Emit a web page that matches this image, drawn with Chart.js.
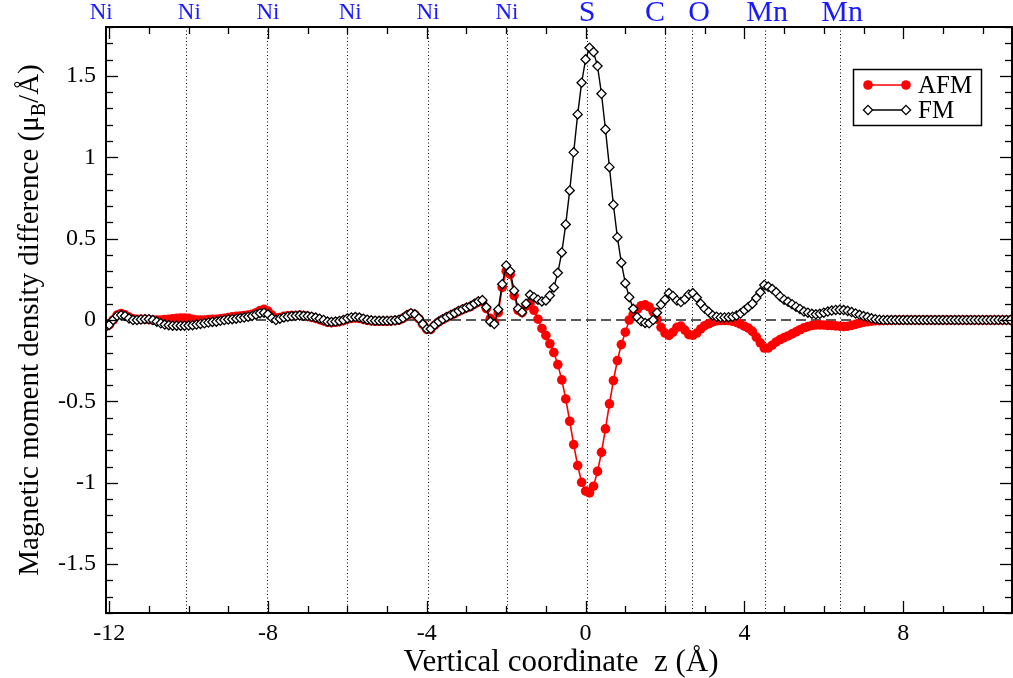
<!DOCTYPE html>
<html>
<head>
<meta charset="utf-8">
<script src="https://cdn.jsdelivr.net/npm/chart.js@4.4.1/dist/chart.umd.min.js"></script>
<style>
html,body{margin:0;padding:0;background:#fff;}
#wrap{width:1013px;height:678px;}
</style>
</head>
<body>
<div id="wrap"><canvas id="c" width="1013" height="678"></canvas></div>
<script>
// ---- data (z in Å, values in μB/Å) ----
const zValues = [-12.1,
 -12.0,-11.9,-11.8,-11.7,-11.6,-11.5,-11.4,-11.3,-11.2,-11.1,
 -11.0,-10.9,-10.8,-10.7,-10.6,-10.5,-10.4,-10.3,-10.2,-10.1,
 -10.0,-9.9,-9.8,-9.7,-9.6,-9.5,-9.4,-9.3,-9.2,-9.1,
 -9.0,-8.9,-8.8,-8.7,-8.6,-8.5,-8.4,-8.3,-8.2,-8.1,
 -8.0,-7.9,-7.8,-7.7,-7.6,-7.5,-7.4,-7.3,-7.2,-7.1,
 -7.0,-6.9,-6.8,-6.7,-6.6,-6.5,-6.4,-6.3,-6.2,-6.1,
 -6.0,-5.9,-5.8,-5.7,-5.6,-5.5,-5.4,-5.3,-5.2,-5.1,
 -5.0,-4.9,-4.8,-4.7,-4.6,-4.5,-4.4,-4.3,-4.2,-4.1,
 -4.0,-3.9,-3.8,-3.7,-3.6,-3.5,-3.4,-3.3,-3.2,-3.1,
 -3.0,-2.9,-2.8,-2.7,-2.6,-2.5,-2.4,-2.3,-2.2,-2.1,
 -2.0,-1.9,-1.8,-1.7,-1.6,-1.5,-1.4,-1.3,-1.2,-1.1,
 -1.0,-0.9,-0.8,-0.7,-0.6,-0.5,-0.4,-0.3,-0.2,-0.1,
 0.0,0.1,0.2,0.3,0.4,0.5,0.6,0.7,0.8,0.9,
 1.0,1.1,1.2,1.3,1.4,1.5,1.6,1.7,1.8,1.9,
 2.0,2.1,2.2,2.3,2.4,2.5,2.6,2.7,2.8,2.9,
 3.0,3.1,3.2,3.3,3.4,3.5,3.6,3.7,3.8,3.9,
 4.0,4.1,4.2,4.3,4.4,4.5,4.6,4.7,4.8,4.9,
 5.0,5.1,5.2,5.3,5.4,5.5,5.6,5.7,5.8,5.9,
 6.0,6.1,6.2,6.3,6.4,6.5,6.6,6.7,6.8,6.9,
 7.0,7.1,7.2,7.3,7.4,7.5,7.6,7.7,7.8,7.9,
 8.0,8.1,8.2,8.3,8.4,8.5,8.6,8.7,8.8,8.9,
 9.0,9.1,9.2,9.3,9.4,9.5,9.6,9.7,9.8,9.9,
 10.0,10.1,10.2,10.3,10.4,10.5,10.6,10.7];

const afmValues = [-0.04,
 -0.03,0.0,0.03,0.04,0.032,0.018,0.008,0.005,0.005,0.005,
 0.003,0.0,0.0,0.0,0.003,0.005,0.008,0.01,0.012,0.012,
 0.01,0.005,0.0,0.0,0.0,0.003,0.005,0.005,0.008,0.01,
 0.015,0.02,0.022,0.025,0.028,0.03,0.035,0.045,0.058,0.065,
 0.055,0.03,0.012,0.015,0.022,0.026,0.028,0.028,0.03,0.028,
 0.022,0.016,0.01,0.002,-0.006,-0.014,-0.016,-0.014,-0.01,-0.004,
 0.005,0.01,0.012,0.01,0.004,-0.002,-0.006,-0.008,-0.008,-0.008,
 -0.008,-0.006,-0.004,0.0,0.01,0.028,0.04,0.033,0.008,-0.027,
 -0.057,-0.057,-0.032,-0.012,0.003,0.016,0.028,0.04,0.053,0.064,
 0.074,0.083,0.097,0.11,0.115,0.07,0.01,-0.012,0.045,0.2,
 0.3,0.28,0.15,0.06,0.045,0.085,0.1,0.06,0.005,-0.052,
 -0.095,-0.146,-0.2,-0.274,-0.368,-0.485,-0.622,-0.765,-0.894,-0.997,
 -1.051,-1.062,-1.021,-0.93,-0.813,-0.669,-0.515,-0.372,-0.249,-0.151,
 -0.075,0.0,0.035,0.065,0.088,0.093,0.08,0.05,0.005,-0.045,
 -0.08,-0.095,-0.075,-0.045,-0.037,-0.062,-0.09,-0.094,-0.08,-0.055,
 -0.035,-0.023,-0.012,-0.005,-0.003,-0.003,-0.003,-0.008,-0.015,-0.025,
 -0.038,-0.05,-0.07,-0.105,-0.14,-0.172,-0.172,-0.155,-0.135,-0.12,
 -0.108,-0.098,-0.085,-0.073,-0.06,-0.048,-0.04,-0.034,-0.031,-0.03,
 -0.031,-0.033,-0.034,-0.036,-0.038,-0.04,-0.038,-0.033,-0.027,-0.02,
 -0.014,-0.01,-0.007,-0.005,-0.004,-0.003,-0.002,-0.002,-0.001,-0.001,
 0,0,0,0,0,0,0,0,0,0,
 0,0,0,0,0,0,0,0,0,0,
 0,0,0,0,0,0,0,0];

const fmValues = [-0.045,
 -0.03,0.0,0.025,0.03,0.025,0.01,0.0,0.0,0.003,0.005,
 0.005,0.0,-0.01,-0.02,-0.028,-0.032,-0.035,-0.035,-0.035,-0.035,
 -0.034,-0.032,-0.028,-0.024,-0.02,-0.016,-0.012,-0.01,-0.005,0.0,
 0.003,0.005,0.008,0.012,0.015,0.02,0.025,0.033,0.042,0.045,
 0.035,0.012,0.0,0.008,0.016,0.02,0.024,0.026,0.028,0.026,
 0.024,0.02,0.015,0.008,0.0,-0.01,-0.012,-0.01,-0.006,0.0,
 0.01,0.016,0.018,0.015,0.008,0.002,-0.002,-0.004,-0.005,-0.005,
 -0.005,-0.004,-0.002,0.002,0.012,0.03,0.042,0.035,0.01,-0.025,
 -0.055,-0.055,-0.03,-0.01,0.005,0.018,0.03,0.042,0.055,0.066,
 0.076,0.085,0.1,0.115,0.122,0.078,-0.01,-0.025,0.065,0.22,
 0.335,0.3,0.18,0.07,0.048,0.1,0.155,0.14,0.125,0.114,
 0.12,0.15,0.2,0.29,0.415,0.587,0.796,1.03,1.263,1.458,
 1.601,1.673,1.646,1.56,1.39,1.171,0.939,0.708,0.509,0.352,
 0.226,0.14,0.069,0.017,-0.008,-0.018,-0.02,0.0,0.045,0.095,
 0.125,0.165,0.148,0.12,0.11,0.128,0.157,0.165,0.138,0.1,
 0.07,0.05,0.028,0.02,0.016,0.016,0.017,0.02,0.027,0.04,
 0.06,0.08,0.1,0.135,0.17,0.215,0.205,0.19,0.17,0.145,
 0.125,0.112,0.097,0.082,0.068,0.052,0.045,0.038,0.035,0.038,
 0.045,0.052,0.058,0.062,0.063,0.061,0.056,0.049,0.04,0.032,
 0.024,0.018,0.01,0.005,0.002,0.0,0.0,0.0,0.0,0.0,
 0,0,0,0,0,0,0,0,0,0,
 0,0,0,0,0,0,0,0,0,0,
 0,0,0,0,0,0,0,0];

const seriesNames = ['AFM', 'FM'];
const xTickValues = [-12, -8, -4, 0, 4, 8];
const yTickValues = [-1.5, -1, -0.5, 0, 0.5, 1, 1.5];
const atomNames = ['Ni','Ni','Ni','Ni','Ni','Ni','S','C','O','Mn','Mn'];
const atomLabelZ = [-12.2, -9.98, -8.0, -5.93, -3.97, -1.98, 0.04, 1.75, 2.86, 4.57, 6.46];
const atomLineZ = [-10.06, -8.02, -6.0, -3.97, -1.98, 0.04, 2.0, 2.68, 4.52, 6.41];
const xTitle = 'Vertical coordinate  z (\u00C5)';
const yTitleParts = ['Magnetic moment density difference (\u03BC', 'B', '/\u00C5)'];

const SERIF = "'Liberation Serif', 'Times New Roman', serif";
const X_MIN = -12.08, X_MAX = 10.74, Y_MIN = -1.8, Y_MAX = 1.8;

const afmPts = zValues.map((z, i) => ({x: z, y: afmValues[i]}));
const fmPts = zValues.map((z, i) => ({x: z, y: fmValues[i]}));

const decor = {
  id: 'decor',
  beforeDatasetsDraw(chart) {
    const {ctx, chartArea: a, scales: {x, y}} = chart;
    ctx.save();
    ctx.beginPath(); ctx.rect(a.left, a.top, a.right - a.left, a.bottom - a.top); ctx.clip();
    // dotted atom lines
    ctx.strokeStyle = '#000'; ctx.lineWidth = 1; ctx.setLineDash([1, 2.5]);
    atomLineZ.forEach(v => {
      const px = Math.round(x.getPixelForValue(v)) + 0.5;
      ctx.beginPath(); ctx.moveTo(px, a.top); ctx.lineTo(px, a.bottom); ctx.stroke();
    });
    // dashed zero line
    ctx.setLineDash([10, 5]); ctx.lineWidth = 1.5; ctx.strokeStyle = '#222';
    const py = y.getPixelForValue(0);
    ctx.beginPath(); ctx.moveTo(a.left, py); ctx.lineTo(a.right, py); ctx.stroke();
    ctx.restore();
  },
  afterDraw(chart) {
    const {ctx, chartArea: a, scales: {x, y}} = chart;
    ctx.save();
    ctx.setLineDash([]);
    ctx.strokeStyle = '#000';
    // inward ticks on all four sides
    ctx.lineWidth = 1.3;
    const tick = (px, len, side) => {
      ctx.beginPath();
      if (side === 'b') { ctx.moveTo(px, a.bottom); ctx.lineTo(px, a.bottom - len); }
      if (side === 't') { ctx.moveTo(px, a.top); ctx.lineTo(px, a.top + len); }
      if (side === 'l') { ctx.moveTo(a.left, px); ctx.lineTo(a.left + len, px); }
      if (side === 'r') { ctx.moveTo(a.right, px); ctx.lineTo(a.right - len, px); }
      ctx.stroke();
    };
    for (let k = -12; k <= 10; k++) {
      const major = xTickValues.includes(k);
      const px = Math.round(x.getPixelForValue(k)) + 0.5;
      tick(px, major ? 12 : 7, 'b'); tick(px, major ? 12 : 7, 't');
    }
    for (let k = -18; k <= 18; k++) {
      const v = k / 10;
      const major = (k % 5 === 0);
      const py = Math.round(y.getPixelForValue(v)) + 0.5;
      tick(py, major ? 12 : 7, 'l'); tick(py, major ? 12 : 7, 'r');
    }
    // frame
    ctx.lineWidth = 2;
    ctx.strokeRect(a.left, a.top, a.right - a.left, a.bottom - a.top);

    // atom labels along top
    ctx.fillStyle = '#1a1aff';
    ctx.textAlign = 'center'; ctx.textBaseline = 'alphabetic';
    atomNames.forEach((n, i) => {
      ctx.font = (n === 'Ni' ? '23px ' : '30px ') + SERIF;
      ctx.fillText(n, x.getPixelForValue(atomLabelZ[i]), n === 'Ni' ? 19 : 21);
    });

    // legend
    const ds = chart.data.datasets;
    ctx.lineWidth = 1.5;
    ctx.strokeStyle = '#000';
    ctx.strokeRect(853.5, 69.5, 128, 56);
    const rows = [85, 110];
    seriesNames.forEach((name, i) => {
      const d = ds.find(e => e.label === name);
      const yy = rows[i];
      ctx.strokeStyle = d.borderColor; ctx.lineWidth = d.borderWidth;
      ctx.beginPath(); ctx.moveTo(868, yy); ctx.lineTo(906, yy); ctx.stroke();
      [868, 906].forEach(px => {
        ctx.beginPath();
        if (d.pointStyle === 'circle') {
          ctx.arc(px, yy, d.pointRadius, 0, Math.PI * 2);
          ctx.fillStyle = d.pointBackgroundColor; ctx.fill();
        } else {
          const r = d.pointRadius;
          ctx.moveTo(px, yy - r); ctx.lineTo(px + r, yy); ctx.lineTo(px, yy + r); ctx.lineTo(px - r, yy); ctx.closePath();
          ctx.fillStyle = d.pointBackgroundColor; ctx.fill();
          ctx.strokeStyle = d.pointBorderColor; ctx.lineWidth = d.pointBorderWidth; ctx.stroke();
        }
      });
      ctx.fillStyle = '#000'; ctx.font = '25px ' + SERIF;
      ctx.textAlign = 'left'; ctx.textBaseline = 'middle';
      ctx.fillText(d.label, 918, yy + 1);
    });

    // x title
    ctx.fillStyle = '#000'; ctx.font = '31px ' + SERIF;
    ctx.textAlign = 'center'; ctx.textBaseline = 'alphabetic';
    ctx.fillText(xTitle, 561, 671);

    // y title (rotated, with subscript)
    ctx.save();
    ctx.translate(38, 320);
    ctx.rotate(-Math.PI / 2);
    const fMain = '29px ' + SERIF, fSub = '20px ' + SERIF;
    ctx.font = fMain; const w0 = ctx.measureText(yTitleParts[0]).width;
    ctx.font = fSub; const w1 = ctx.measureText(yTitleParts[1]).width;
    ctx.font = fMain; const w2 = ctx.measureText(yTitleParts[2]).width;
    let sx = -(w0 + w1 + w2) / 2;
    ctx.textAlign = 'left'; ctx.textBaseline = 'alphabetic';
    ctx.font = fMain; ctx.fillText(yTitleParts[0], sx, 0); sx += w0;
    ctx.font = fSub; ctx.fillText(yTitleParts[1], sx, 7); sx += w1;
    ctx.font = fMain; ctx.fillText(yTitleParts[2], sx, 0);
    ctx.restore();

    ctx.restore();
  }
};

new Chart(document.getElementById('c'), {
  type: 'scatter',
  data: {
    datasets: [
      {
        label: seriesNames[1], data: fmPts, showLine: true, order: 0,
        borderColor: '#000', borderWidth: 1.4,
        pointStyle: 'rectRot', pointRadius: 4.6, pointBackgroundColor: '#fff',
        pointBorderColor: '#000', pointBorderWidth: 1.3
      },
      {
        label: seriesNames[0], data: afmPts, showLine: true, order: 1,
        borderColor: '#ff0000', borderWidth: 1.6,
        pointStyle: 'circle', pointRadius: 4.8, pointBackgroundColor: '#ff0000',
        pointBorderColor: '#ff0000', pointBorderWidth: 0
      }
    ]
  },
  options: {
    responsive: false, animation: false, devicePixelRatio: 1,
    layout: {autoPadding: false, padding: {top: 27, right: 1, left: 0, bottom: 0}},
    plugins: {legend: {display: false}, tooltip: {enabled: false}},
    scales: {
      x: {
        type: 'linear', min: X_MIN, max: X_MAX,
        grid: {display: false, drawTicks: false}, border: {display: false},
        afterFit(s) { s.height = 65; },
        afterBuildTicks(s) { s.ticks = xTickValues.map(v => ({value: v})); },
        ticks: {
          autoSkip: false, maxRotation: 0, padding: 6, color: '#000',
          font: {family: SERIF, size: 24},
          callback: v => String(v)
        }
      },
      y: {
        type: 'linear', min: Y_MIN, max: Y_MAX,
        grid: {display: false, drawTicks: false}, border: {display: false},
        afterFit(s) { s.width = 106; },
        afterBuildTicks(s) { s.ticks = yTickValues.map(v => ({value: v})); },
        ticks: {
          autoSkip: false, padding: 10, color: '#000',
          font: {family: SERIF, size: 24},
          callback: v => String(v)
        }
      }
    }
  },
  plugins: [decor]
});
</script>
</body>
</html>
